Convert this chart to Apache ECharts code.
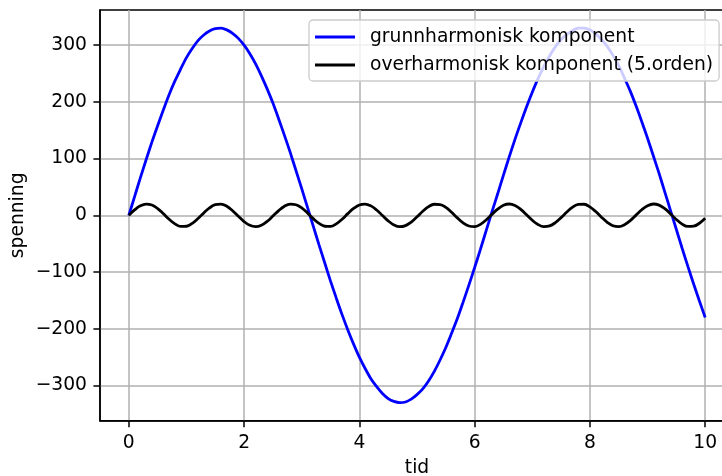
<!DOCTYPE html>
<html>
<head>
<meta charset="utf-8">
<script src="https://cdn.jsdelivr.net/npm/echarts@6/dist/echarts.min.js"></script>
<style>
html,body{margin:0;padding:0;background:#fff;}
#c{width:722px;height:476px;}
</style>
</head>
<body>
<div id="c"></div>
<script>
// time samples (tid)
const tid = [0.0,0.1,0.2,0.3,0.4,0.5,0.6,0.7,0.8,0.9,1.0,1.1,1.2,1.3,1.4,1.5,1.6,1.7,1.8,1.9,2.0,2.1,2.2,2.3,2.4,2.5,2.6,2.7,2.8,2.9,3.0,3.1,3.2,3.3,3.4,3.5,3.6,3.7,3.8,3.9,4.0,4.1,4.2,4.3,4.4,4.5,4.6,4.7,4.8,4.9,5.0,5.1,5.2,5.3,5.4,5.5,5.6,5.7,5.8,5.9,6.0,6.1,6.2,6.3,6.4,6.5,6.6,6.7,6.8,6.9,7.0,7.1,7.2,7.3,7.4,7.5,7.6,7.7,7.8,7.9,8.0,8.1,8.2,8.3,8.4,8.5,8.6,8.7,8.8,8.9,9.0,9.1,9.2,9.3,9.4,9.5,9.6,9.7,9.8,9.9,10.0];
// grunnharmonisk komponent (blue)
const grunn = [0,33,66,98,129,158,186,213,237,258,278,294,308,318,325,329,330,327,321,312,300,285,267,246,223,198,170,141,111,79,47,14,-19,-52,-84,-116,-146,-175,-202,-227,-250,-270,-288,-302,-314,-323,-328,-330,-329,-324,-316,-306,-292,-275,-255,-233,-208,-182,-153,-123,-92,-60,-27,6,38,71,103,134,163,191,217,241,262,281,297,310,319,326,330,330,327,320,310,298,282,264,242,219,193,165,136,105,74,41,8,-25,-58,-90,-121,-151,-180];
// overharmonisk komponent (5.orden) (black)
const over = [0,9.6,16.8,19.9,18.2,12.0,2.8,-7.0,-15.1,-19.6,-19.2,-14.1,-5.6,4.3,13.1,18.8,19.8,16.0,8.2,-1.5,-10.9,-17.6,-20.0,-17.5,-10.7,-1.3,8.4,16.1,19.8,18.7,13.0,4.1,-5.8,-14.2,-19.2,-19.6,-15.0,-6.8,3.0,12.1,18.3,19.9,16.7,9.4,-0.2,-9.7,-16.9,-20.0,-18.1,-11.8,-2.6,7.2,15.3,19.6,19.1,14.0,5.4,-4.5,-13.3,-18.8,-19.8,-15.9,-8.1,1.7,11.0,17.7,20.0,17.4,10.6,1.2,-8.6,-16.2,-19.8,-18.6,-12.9,-4.0,5.9,14.4,19.3,19.6,14.9,6.7,-3.2,-12.2,-18.3,-19.9,-16.6,-9.3,0.4,9.9,17.0,20.0,18.0,11.7,2.5,-7.3,-15.4,-19.6,-19.1,-13.9,-5.2];
// tick labels
const xTicks = [0,2,4,6,8,10];
const yTicks = [-300,-200,-100,0,100,200,300];
const seriesNames = ['grunnharmonisk komponent','overharmonisk komponent (5.orden)'];

const FONT = 'DejaVu Sans';
const FS = 18.7;

function pairs(xs, ys){ return xs.map((x,i)=>[x, ys[i]]); }
function minus(v){ return String(v).replace('-', '\u2212'); }

const chart = echarts.init(document.getElementById('c'), null, {renderer:'canvas'});
chart.setOption({
  animation: false,
  backgroundColor: '#ffffff',
  textStyle: {fontFamily: FONT},
  grid: {
    left: 100, top: 10, right: -12, bottom: 55.3,
    containLabel: false, outerBoundsMode: 'none',
    show: true, borderColor: '#000000', borderWidth: 1.5, backgroundColor: 'transparent'
  },
  legend: {
    left: 309, top: 20,
    orient: 'vertical',
    padding: [7, 6, 6, 6],
    itemWidth: 40, itemHeight: 2.8, itemGap: 8,
    icon: 'rect',
    borderColor: '#cccccc', borderWidth: 1.3, borderRadius: 4,
    backgroundColor: 'rgba(255,255,255,0.8)',
    textStyle: {fontFamily: FONT, fontSize: FS, color: '#000', lineHeight: 20, padding: [0,0,0,10]},
    data: seriesNames
  },
  xAxis: {
    type: 'value', min: -0.5, max: 10.5,
    name: 'tid', nameLocation: 'middle', nameGap: 38, nameMoveOverlap: false,
    nameTextStyle: {fontFamily: FONT, fontSize: FS, color: '#000'},
    axisLine: {show: true, onZero: false, lineStyle: {color: '#000', width: 1.5}},
    axisTick: {show: true, length: 6.6, lineStyle: {color: '#000', width: 1.5}, customValues: xTicks},
    axisLabel: {show: true, margin: 13, fontFamily: FONT, fontSize: FS, color: '#000', customValues: xTicks,
      formatter: minus},
    splitLine: {show: true, lineStyle: {color: '#b0b0b0', width: 1.5}}
  },
  yAxis: {
    type: 'value', min: -362, max: 362,
    name: 'spenning', nameLocation: 'middle', nameGap: 72, nameRotate: 90, nameMoveOverlap: false,
    nameTextStyle: {fontFamily: FONT, fontSize: FS, color: '#000'},
    axisLine: {show: true, onZero: false, lineStyle: {color: '#000', width: 1.5}},
    axisTick: {show: true, length: 6.6, lineStyle: {color: '#000', width: 1.5}, customValues: yTicks},
    axisLabel: {show: true, margin: 13, fontFamily: FONT, fontSize: FS, color: '#000', customValues: yTicks,
      formatter: minus},
    splitLine: {show: true, lineStyle: {color: '#b0b0b0', width: 1.5}}
  },
  series: [
    {
      name: seriesNames[0], type: 'line', data: pairs(tid, grunn),
      symbol: 'none', smooth: 0.3, clip: true,
      lineStyle: {color: '#0000ff', width: 2.8}, itemStyle: {color: '#0000ff'}
    },
    {
      name: seriesNames[1], type: 'line', data: pairs(tid, over),
      symbol: 'none', smooth: 0.4, clip: true,
      lineStyle: {color: '#000000', width: 2.8}, itemStyle: {color: '#000000'}
    }
  ]
});
</script>
</body>
</html>
